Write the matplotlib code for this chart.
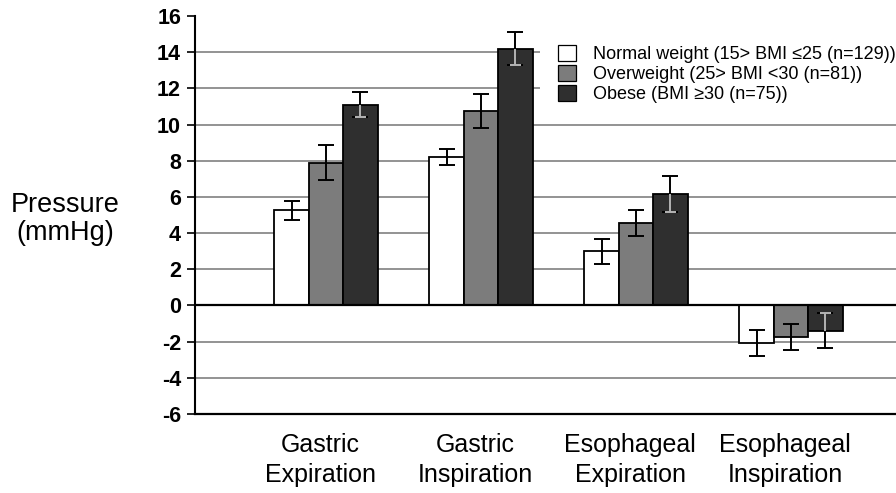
import matplotlib
matplotlib.use("Agg")
import matplotlib.pyplot as plt
import matplotlib.transforms as mtransforms
import numpy as np

plt.rcParams['font.family'] = ['Liberation Sans', 'DejaVu Sans']

categories = ["Gastric\nExpiration", "Gastric\nInspiration",
              "Esophageal\nExpiration", "Esophageal\nInspiration"]
series_labels = ["Normal weight (15> BMI \u226425 (n=129))",
                 "Overweight (25> BMI <30 (n=81))",
                 "Obese (BMI \u226530 (n=75))"]
normal_mean = [5.25, 8.2, 3.0, -2.05]
normal_err = [0.5, 0.45, 0.7, 0.72]
over_mean = [7.9, 10.75, 4.55, -1.72]
over_err = [0.95, 0.95, 0.7, 0.72]
obese_mean = [11.1, 14.2, 6.15, -1.4]
obese_err = [0.7, 0.9, 1.0, 0.97]
yticks = list(range(-6, 17, 2))

means = [normal_mean, over_mean, obese_mean]
errs = [normal_err, over_err, obese_err]
colors = ["#ffffff", "#7c7c7c", "#2f2f2f"]

W, H = 896, 493
fig = plt.figure(figsize=(W / 100, H / 100), dpi=100)
ax = fig.add_axes([195 / W, 1 - 414 / H, 701 / W, (414 - 16) / H])

x = np.arange(len(categories))
bw = 0.222
offsets = [-bw, 0.0, bw]

# horizontal grid behind the bars
for t in yticks:
    if t in (0, -6, 16):
        continue
    ax.axhline(t, color="#8a8a8a", lw=1.3, zorder=0)

for m, e, c, off, lab in zip(means, errs, colors, offsets, series_labels):
    ax.bar(x + off, m, width=bw, color=c, edgecolor="black", linewidth=1.3,
           zorder=2, label=lab)
    ax.errorbar(x + off, m, yerr=e, fmt="none", ecolor="black",
                elinewidth=1.4, capsize=5.5, capthick=1.4, zorder=3)

# error bar halves inside the dark bars are drawn light
m = np.array(obese_mean)
e = np.array(obese_err)
inner = m - np.sign(m) * e
ax.vlines(x + offsets[2], np.minimum(m, inner), np.maximum(m, inner),
          color="#b5b5b5", lw=1.4, zorder=4)
ax.hlines(inner, x + offsets[2] - 0.036, x + offsets[2] + 0.036,
          color="#b5b5b5", lw=1.4, zorder=4)

ax.axhline(0, color="black", lw=1.6, zorder=5)

ax.set_ylim(-6, 16)
ax.set_xlim((195 - 326) / 155, (896 - 326) / 155)
ax.set_yticks(yticks)
ax.set_yticklabels([str(t) for t in yticks], fontsize=15.5, fontweight="bold")
ax.tick_params(axis="y", direction="out", length=6, width=1.2, pad=4)
ax.set_xticks(x)
ax.set_xticklabels(categories, fontsize=18, linespacing=1.27)
ax.tick_params(axis="x", length=0, pad=14)
shift = mtransforms.ScaledTranslation(-6 / 100, 0, fig.dpi_scale_trans)
for lbl in ax.get_xticklabels():
    lbl.set_transform(lbl.get_transform() + shift)

for s in ("top", "right"):
    ax.spines[s].set_visible(False)
ax.spines["left"].set_linewidth(1.5)
ax.spines["bottom"].set_linewidth(1.6)

fig.text(65 / W, 1 - 219 / H, "Pressure\n(mmHg)", fontsize=19.5,
         ha="center", va="center", linespacing=1.15)

# white legend box that hides the grid lines behind it
leg = ax.legend(loc="upper left", bbox_to_anchor=(540 / W, 1 - 27 / H),
                bbox_transform=fig.transFigure, fontsize=13, frameon=True,
                fancybox=False, edgecolor="none", facecolor="white",
                framealpha=1, handlelength=1.0, handleheight=1.0,
                handletextpad=0.95, labelspacing=0.1, borderaxespad=0,
                borderpad=1.0)
leg.set_zorder(6)
for h in leg.legend_handles:
    h.set_linewidth(0.9)

fig.savefig("out.png", dpi=100)
